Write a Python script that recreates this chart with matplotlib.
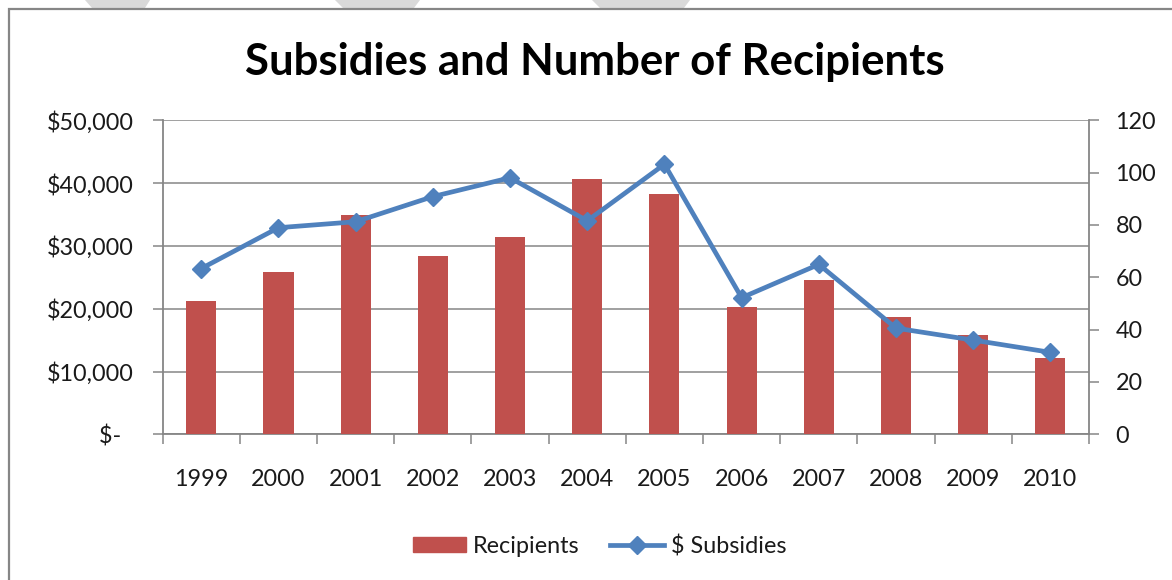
import matplotlib
matplotlib.use("Agg")
import matplotlib.pyplot as plt
from matplotlib.patches import Rectangle, Patch, Polygon
from matplotlib.lines import Line2D
from matplotlib.ticker import FixedLocator, FuncFormatter
import numpy as np

years = ["1999", "2000", "2001", "2002", "2003", "2004",
         "2005", "2006", "2007", "2008", "2009", "2010"]
recipients = [51, 62, 84, 68, 75.5, 97.5, 92, 48.5, 59, 45, 38, 29]
subsidies = [26400, 32900, 33850, 37850, 40850, 34000,
             43000, 21750, 27050, 16900, 15000, 13050]
left_ticks = [0, 10000, 20000, 30000, 40000, 50000]
right_ticks = [0, 20, 40, 60, 80, 100, 120]

BAR_C = "#C0504D"
LINE_C = "#4F81BD"
AX_C = "#868686"
FONT = "Lato"
TS = 16.8

plt.rcParams["font.family"] = [FONT, "DejaVu Sans"]

W, H = 1172, 580
fig = plt.figure(figsize=(W / 100, H / 100), dpi=100)

# faint watermark stripes above the frame
for (a, b, c, d) in [(85, 150, 145, 92), (335, 420, 414, 343), (592, 690, 684, 600)]:
    fig.patches.append(Polygon([(a / W, 1.0), (b / W, 1.0), (c / W, 1 - 8 / H), (d / W, 1 - 8 / H)],
                               closed=True, transform=fig.transFigure,
                               facecolor="#d9d9d9", edgecolor="none"))

# frame
fig.patches.append(Rectangle((9 / W, -0.05), 1.2, 1 - 8.5 / H + 0.05,
                             transform=fig.transFigure, fill=False,
                             edgecolor=AX_C, linewidth=1.6))

x0, x1 = 162.7, 1089.0
y0, y1 = 434.3, 120.3
ax = fig.add_axes([x0 / W, 1 - y0 / H, (x1 - x0) / W, (y0 - y1) / H])
ax2 = ax.twinx()
ax3 = ax.twinx()

xs = np.arange(len(years))

# grid on left-scale axes
ax.set_ylim(0, 50000)
ax.set_xlim(-0.5, len(years) - 0.5)
ax.yaxis.set_major_locator(FixedLocator(left_ticks))
ax.yaxis.set_major_formatter(FuncFormatter(
    lambda v, p: "$-  " if v == 0 else "${:,.0f}".format(v)))
ax.grid(axis="y", color=AX_C, linewidth=1.1)
ax.set_axisbelow(True)

# bars on right-scale axes
ax2.bar(xs, recipients, width=0.39, color=BAR_C, zorder=2)
ax2.set_ylim(0, 120)
ax2.yaxis.set_major_locator(FixedLocator(right_ticks))

# line on left-scale overlay axes
ax3.set_ylim(0, 50000)
ax3.plot(xs, subsidies, color=LINE_C, linewidth=3.4, marker="D",
         markersize=9.5, markerfacecolor=LINE_C, markeredgecolor=LINE_C,
         solid_joinstyle="miter")
ax3.set_yticks([])
for a in (ax2, ax3):
    for s in a.spines.values():
        s.set_visible(False)
ax2.spines["right"].set_visible(True)
ax2.spines["right"].set_color(AX_C)
ax2.spines["right"].set_linewidth(1.3)

ax.spines["top"].set_visible(False)
ax.spines["right"].set_visible(False)
for s in ["left", "bottom"]:
    ax.spines[s].set_color(AX_C)
    ax.spines[s].set_linewidth(1.3)

# x axis: ticks at category boundaries, labels at centres
ax.xaxis.set_major_locator(FixedLocator(np.arange(-0.5, len(years), 1.0)))
ax.xaxis.set_major_formatter(FuncFormatter(lambda v, p: ""))
ax.xaxis.set_minor_locator(FixedLocator(xs))
ax.set_xticklabels(years, minor=True)
ax.tick_params(axis="x", which="major", direction="out", length=7,
               color=AX_C, width=1.1)
ax.tick_params(axis="x", which="minor", length=0, pad=25,
               labelsize=TS, labelcolor="#1a1a1a")
ax.tick_params(axis="y", direction="out", length=7, color=AX_C, width=1.1,
               pad=14, labelsize=TS, labelcolor="#1a1a1a")
ax2.tick_params(axis="y", direction="out", length=7, color=AX_C, width=1.1,
                pad=12, labelsize=TS, labelcolor="#1a1a1a")

# title
fig.text(595 / W, 1 - 75 / H, "Subsidies and Number of Recipients",
         ha="center", va="baseline", fontsize=31.5, fontweight="bold",
         color="black")

# legend
handles = [Patch(facecolor=BAR_C, edgecolor=BAR_C, label="Recipients"),
           Line2D([], [], color=LINE_C, linewidth=3.4, marker="D",
                  markersize=9.5, label="$ Subsidies")]
fig.legend(handles=handles, loc="center", bbox_to_anchor=(599.5 / W, 1 - 546 / H),
           ncol=2, frameon=False, fontsize=TS, handlelength=2.3,
           handleheight=0.6, handletextpad=0.3, columnspacing=1.3,
           labelcolor="#1a1a1a")

fig.savefig("out.png", dpi=100)
